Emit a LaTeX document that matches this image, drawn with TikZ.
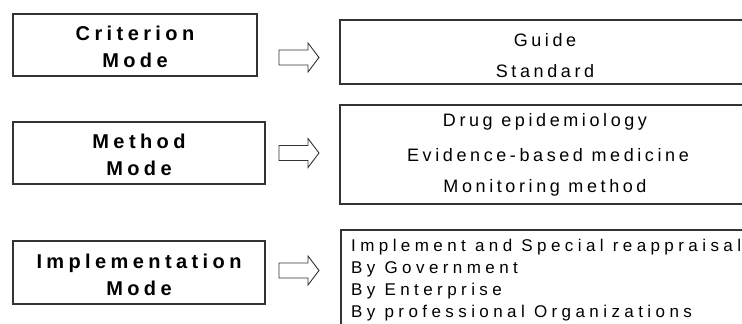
\documentclass[tikz,border=0pt]{standalone}
\usepackage{fontspec}
\setmainfont{Liberation Sans}
\newfontfamily\headfont[LetterSpace=22]{Liberation Sans}
\newfontfamily\itemfont[LetterSpace=20]{Liberation Sans}
\newfontfamily\listfont[LetterSpace=26]{Liberation Sans}
\tikzset{
  modebox/.style={draw=black!80, line width=1.2pt, inner sep=0pt, align=center,
    font=\headfont\bfseries\fontsize{20}{27}\selectfont},
  listbox/.style={draw=black!80, line width=1.2pt},
  itemtext/.style={font=\itemfont\fontsize{18}{20}\selectfont, inner sep=0pt},
  listtext/.style={font=\listfont\fontsize{17}{22}\selectfont, inner sep=0pt, anchor=west},
  flowarrow/.style={draw=black!80, fill=white, line width=0.9pt, line join=miter}
}
% block arrow pointing right, its tail at the given point
\newcommand{\blockarrow}[1]{%
  \draw[flowarrow] (#1) ++(0,-7.5) -- ++(29,0) -- ++(0,-7) -- ++(11,14.5)
    -- ++(-11,14.5) -- ++(0,-7) -- ++(-29,0) -- cycle;}
\begin{document}
\begin{tikzpicture}[x=1pt,y=-1pt]
\clip (0,0) rectangle (742,324);
\fill[white] (0,0) rectangle (742,324);

% left column: the three modes
\node[modebox, minimum width=244pt, minimum height=62pt] (crit) at (135,45) {};
\node[modebox, minimum width=252pt, minimum height=62pt] (meth) at (139,153) {};
\node[modebox, minimum width=252pt, minimum height=63pt] (impl) at (139,272.5) {};
\node[modebox, draw=none] (critT) at ([yshift=-2pt]crit.center) {Criterion\\Mode};
\node[modebox, draw=none] (methT) at ([yshift=-2pt]meth.center) {Method\\Mode};
\node[modebox, draw=none] (implT) at ([yshift=-2pt]impl.center) {Implementation\\Mode};

% right column: the contents of each mode
\draw[listbox] (340,20) rectangle (760,84);
\node[itemtext] (guide) at (545,40) {Guide};
\node[itemtext] (std) at (545,71) {Standard};

\draw[listbox] (340,105) rectangle (760,204);
\node[itemtext] (drug) at (545,122) {Drug epidemiology};
\node[itemtext] (ebm) at (548,155) {Evidence-based medicine};
\node[itemtext] (mon) at (545,188) {Monitoring method};

\draw[listbox] (341,230) rectangle (760,340);
\node[listtext] (l1) at (351,247) {Implement and Special reappraisal};
\node[listtext] (l2) at (351,269) {By Government};
\node[listtext] (l3) at (351,291) {By Enterprise};
\node[listtext] (l4) at (351,313) {By professional Organizations};

% block arrows between the columns
\coordinate (a1) at (279,57.5);
\coordinate (a2) at (279,153);
\coordinate (a3) at (279,270.5);
\blockarrow{a1}
\blockarrow{a2}
\blockarrow{a3}
\end{tikzpicture}
\end{document}
